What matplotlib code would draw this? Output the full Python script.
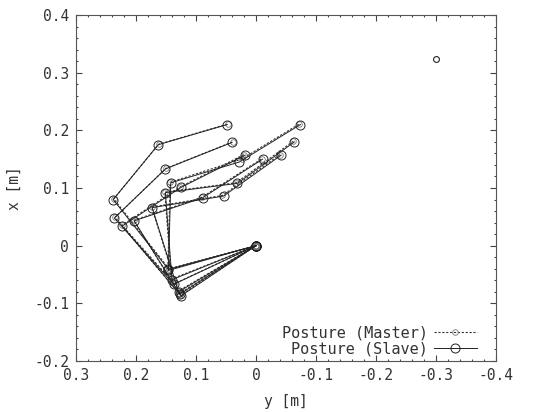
import numpy as np
import matplotlib
matplotlib.use('Agg')
import matplotlib.pyplot as plt
from matplotlib.ticker import MultipleLocator

plt.rcParams['font.family'] = ['DejaVu Sans Mono']

# posture points: base -> elbow -> wrist -> hand -> tip
# horizontal value = y [m], vertical value = x [m]
slave_y = [
    [0.0, 0.146, 0.238, 0.163, 0.048],
    [0.0, 0.137, 0.236, 0.151, 0.040],
    [0.0, 0.127, 0.223, 0.125, 0.018],
    [0.0, 0.125, 0.203, 0.089, -0.011],
    [0.0, 0.129, 0.173, 0.054, -0.042],
    [0.0, 0.140, 0.151, 0.031, -0.064],
    [0.0, 0.146, 0.142, 0.028, -0.074],
]
slave_x = [
    [0.0, -0.041, 0.080, 0.175, 0.210],
    [0.0, -0.067, 0.048, 0.133, 0.179],
    [0.0, -0.084, 0.034, 0.101, 0.157],
    [0.0, -0.087, 0.043, 0.083, 0.150],
    [0.0, -0.080, 0.066, 0.086, 0.157],
    [0.0, -0.059, 0.092, 0.108, 0.180],
    [0.0, -0.043, 0.109, 0.145, 0.210],
]
master_y = [
    [0.0, 0.145, 0.237, 0.162, 0.047],
    [0.0, 0.136, 0.235, 0.150, 0.039],
    [0.0, 0.128, 0.224, 0.126, 0.020],
    [0.0, 0.126, 0.204, 0.090, -0.010],
    [0.0, 0.130, 0.174, 0.056, -0.040],
    [0.0, 0.141, 0.152, 0.033, -0.062],
    [0.0, 0.147, 0.143, 0.024, -0.072],
]
master_x = [
    [0.0, -0.040, 0.081, 0.176, 0.211],
    [0.0, -0.066, 0.049, 0.134, 0.180],
    [0.0, -0.083, 0.035, 0.102, 0.158],
    [0.0, -0.086, 0.044, 0.084, 0.151],
    [0.0, -0.079, 0.067, 0.087, 0.158],
    [0.0, -0.058, 0.093, 0.109, 0.181],
    [0.0, -0.042, 0.110, 0.150, 0.211],
]
target_y = [-0.30]
target_x = [0.323]

fig = plt.figure(figsize=(5.34, 4.12), dpi=100)
ax = fig.add_axes([0.1423, 0.1238, 0.7865, 0.8398])

for i in range(len(master_y)):
    ax.plot(master_y[i], master_x[i], color='#333333', lw=0.8, ls=(0, (2, 1.5)),
            marker='o', ms=4, mfc='none', mec='#777777', mew=0.6,
            label='Posture (Master)' if i == 0 else None)
for i in range(len(slave_y)):
    ax.plot(slave_y[i], slave_x[i], color='#222222', lw=0.7, ls='-',
            marker='o', ms=6.5, mfc='none', mec='#222222', mew=0.7,
            label='Posture (Slave)' if i == 0 else None)

ax.plot(target_y, target_x, ls='none', marker='o', ms=4.2, mfc='none',
        mec='#222222', mew=0.8)

ax.set_xlim(0.3, -0.4)
ax.set_ylim(-0.2, 0.4)
ax.xaxis.set_minor_locator(MultipleLocator(0.02))
ax.yaxis.set_minor_locator(MultipleLocator(0.02))
ax.set_xticks([0.3, 0.2, 0.1, 0, -0.1, -0.2, -0.3, -0.4])
ax.set_xticklabels(['0.3', '0.2', '0.1', '0', '-0.1', '-0.2', '-0.3', '-0.4'])
ax.set_yticks([-0.2, -0.1, 0, 0.1, 0.2, 0.3, 0.4])
ax.set_yticklabels(['-0.2', '-0.1', '0', '0.1', '0.2', '0.3', '0.4'])
ax.tick_params(which='both', direction='in', top=True, right=True,
               colors='#444444', labelcolor='#333333', labelsize=10.5)
ax.tick_params(which='major', length=4, width=0.8, pad=5)
ax.tick_params(which='minor', length=1.5, width=0.8)
for s in ax.spines.values():
    s.set_color('#555555')
    s.set_linewidth(0.8)

ax.set_xlabel('y [m]', fontsize=10.5, color='#333333', labelpad=8)
ax.set_ylabel('x [m]', fontsize=10.5, color='#333333', labelpad=9)

ax.legend(loc='lower right', bbox_to_anchor=(0.965, 0.0), frameon=False,
          markerfirst=False, fontsize=11, handlelength=2.8, handletextpad=0.4,
          labelspacing=0.05, borderaxespad=0.2, borderpad=0.1,
          labelcolor='#333333')

fig.savefig('out.png', dpi=100)
